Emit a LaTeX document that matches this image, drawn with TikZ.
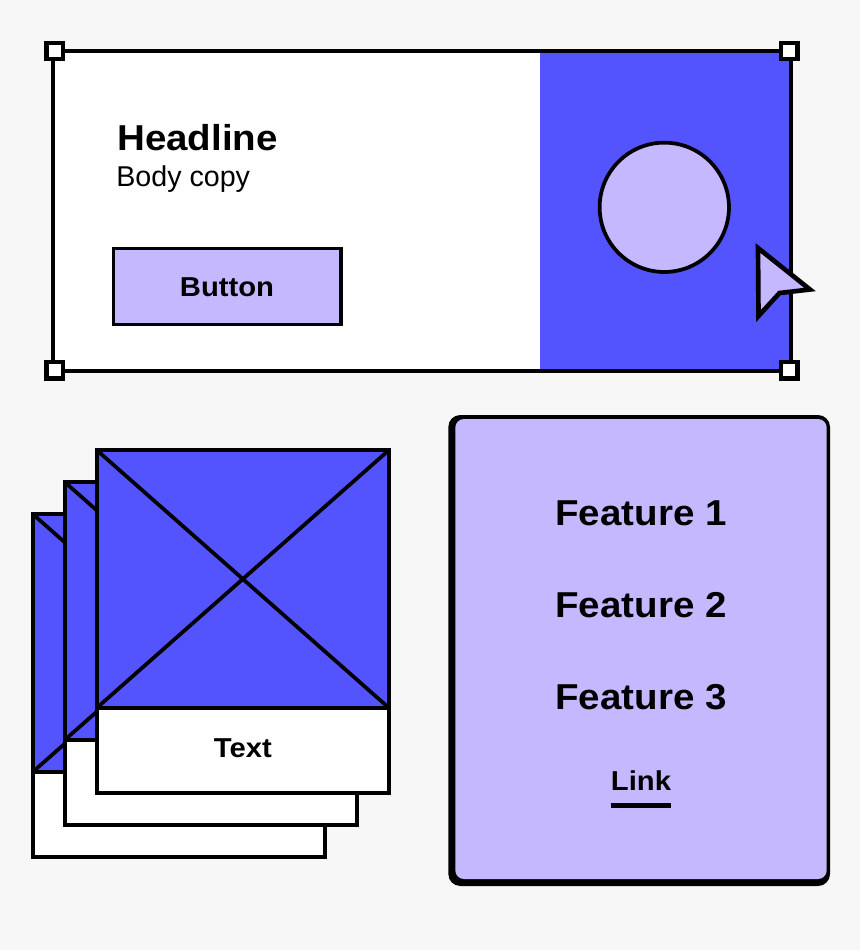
\documentclass[tikz,border=0pt]{standalone}
\usepackage{fontspec}
\setmainfont{Liberation Sans}
\newfontfamily\widefam[FakeStretch=1.07]{Liberation Sans}
\usetikzlibrary{calc}

\definecolor{pagegrey}{HTML}{F7F7F7}
\definecolor{wireblue}{HTML}{5454FF}
\definecolor{wirelilac}{HTML}{C5B8FF}

\tikzset{
    wire/.style = {line width = 2.8pt, black},
    handle/.style = {draw, wire, line width = 3.2pt, fill = white, minimum size = 12.3pt, inner sep = 0pt},
    label/.style = {inner sep = 0pt, anchor = base, font = \widefam\bfseries\fontsize{20.5}{23}\selectfont},
    feature/.style = {label, font = \widefam\bfseries\fontsize{27}{30}\selectfont},
}

\begin{document}
\begin{tikzpicture}[x = 0.75pt, y = -0.75pt]
    \fill[pagegrey] (0,0) rectangle (860,950);
    \useasboundingbox (0,0) rectangle (860,950);

    % banner
    \fill[white] (53,51) rectangle (540,371);
    \fill[wireblue] (540,51) rectangle (791,371);
    \draw[wire] (53,51) rectangle (791,371);
    \foreach \cx/\cy/\cname in {54.7/51/nw, 789.3/51/ne, 54.7/370.3/sw, 789.3/370.3/se}{
        \node[handle] (handle-\cname) at (\cx,\cy) {};
    }

    \node[feature, anchor = base west] (headline) at (117,150) {Headline};
    \node[inner sep = 0pt, anchor = base west, font = \fontsize{21.5}{24}\selectfont] (body) at (116,186) {Body copy};
    \draw[wire, fill = wirelilac] (113.5,248.5) rectangle (341,324.5);
    \node[label] (button) at (227,296) {Button};

    \draw[wire, fill = wirelilac] (664.3,207.3) circle (48.5pt);
    \draw[line width = 3.5pt, black, fill = wirelilac] (758,248) -- (810,289.5) -- (779.5,293) -- (758.5,316) -- cycle;

    % stack of cards, back one first
    \foreach \i in {2,1,0}{
        \pgfmathsetmacro\dx{97-32*\i}
        \pgfmathsetmacro\dy{450.3+32*\i}
        \pgfmathsetmacro\ex{\dx+291.7}
        \pgfmathsetmacro\my{\dy+257.4}
        \pgfmathsetmacro\ey{\dy+343}
        \draw[wire, fill = white] (\dx,\my) rectangle (\ex,\ey);
        \draw[wire, fill = wireblue] (\dx,\dy) rectangle (\ex,\my);
        \draw[wire] (\dx,\dy) -- (\ex,\my);
        \draw[wire] (\ex,\dy) -- (\dx,\my);
    }
    \node[label] (text) at (242.8,757.8) {Text};

    % feature card
    \fill[black, rounded corners = 9pt] (448.3,415) rectangle (830,886);
    \fill[wirelilac, rounded corners = 6.5pt] (455.3,419) rectangle (826.7,879);
    \foreach \y/\t in {525/Feature 1, 617.3/Feature 2, 709.3/Feature 3}{
        \node[feature] (f-\y) at (641,\y) {\t};
    }
    \node[label] (link) at (641,790.7) {Link};
    \draw[line width = 3.4pt, black] (610.5,805.7) -- (671,805.7);
\end{tikzpicture}
\end{document}
